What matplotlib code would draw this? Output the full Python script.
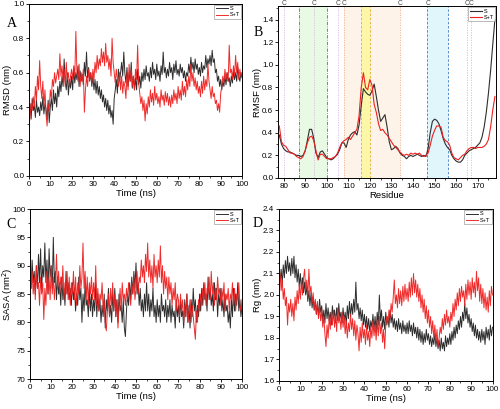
import numpy as np
import matplotlib
matplotlib.use("Agg")
import matplotlib.pyplot as plt
from matplotlib.ticker import MultipleLocator
from matplotlib.transforms import offset_copy

# ---------------- data ----------------
time_ns = np.arange(0, 100.5, 0.5)

rmsd_S = [0.36, 0.42, 0.33, 0.45, 0.38, 0.41, 0.34, 0.44, 0.37, 0.40,
          0.35, 0.43, 0.38, 0.46, 0.36, 0.42, 0.39, 0.33, 0.44, 0.31,
          0.40, 0.45, 0.38, 0.50, 0.42, 0.48, 0.40, 0.52, 0.46, 0.55,
          0.49, 0.58, 0.52, 0.68, 0.55, 0.50, 0.60, 0.47, 0.56, 0.51,
          0.58, 0.50, 0.62, 0.54, 0.60, 0.56, 0.64, 0.52, 0.61, 0.55,
          0.59, 0.53, 0.66, 0.58, 0.72, 0.57, 0.63, 0.55, 0.60, 0.52,
          0.58, 0.50, 0.56, 0.48, 0.55, 0.47, 0.52, 0.45, 0.50, 0.43,
          0.47, 0.40, 0.45, 0.38, 0.44, 0.36, 0.41, 0.34, 0.38, 0.30,
          0.45, 0.50, 0.56, 0.48, 0.62, 0.55, 0.60, 0.66, 0.58, 0.72,
          0.60, 0.54, 0.63, 0.52, 0.60, 0.55, 0.66, 0.51, 0.58, 0.50,
          0.57, 0.50, 0.62, 0.53, 0.58, 0.51, 0.60, 0.55, 0.62, 0.56,
          0.64, 0.58, 0.60, 0.55, 0.63, 0.57, 0.66, 0.59, 0.62, 0.56,
          0.65, 0.58, 0.61, 0.55, 0.64, 0.59, 0.72, 0.60, 0.63, 0.57,
          0.62, 0.58, 0.66, 0.60, 0.63, 0.56, 0.65, 0.60, 0.67, 0.59,
          0.62, 0.58, 0.65, 0.60, 0.63, 0.57, 0.61, 0.55, 0.60, 0.58,
          0.65, 0.60, 0.69, 0.62, 0.66, 0.60, 0.68, 0.62, 0.65, 0.59,
          0.63, 0.58, 0.66, 0.60, 0.64, 0.62, 0.70, 0.63, 0.68, 0.65,
          0.70, 0.64, 0.73, 0.66, 0.68, 0.60, 0.62, 0.55, 0.58, 0.52,
          0.56, 0.50, 0.55, 0.52, 0.58, 0.53, 0.60, 0.55, 0.57, 0.52,
          0.58, 0.54, 0.61, 0.56, 0.60, 0.55, 0.63, 0.58, 0.55, 0.60,
          0.57]

rmsd_ST = [0.28, 0.35, 0.42, 0.38, 0.46, 0.40, 0.52, 0.44, 0.58, 0.50,
           0.67, 0.52, 0.45, 0.55, 0.40, 0.50, 0.36, 0.29, 0.42, 0.38,
           0.50, 0.45, 0.56, 0.52, 0.60, 0.54, 0.58, 0.62, 0.56, 0.71,
           0.58, 0.64, 0.55, 0.62, 0.52, 0.66, 0.56, 0.60, 0.52, 0.58,
           0.62, 0.56, 0.64, 0.58, 0.84, 0.60, 0.55, 0.65, 0.52, 0.60,
           0.55, 0.62, 0.37, 0.50, 0.58, 0.52, 0.62, 0.56, 0.60, 0.54,
           0.62, 0.56, 0.66, 0.60, 0.70, 0.62, 0.68, 0.64, 0.74, 0.66,
           0.72, 0.64, 0.77, 0.66, 0.70, 0.62, 0.68, 0.58, 0.80, 0.66,
           0.60, 0.54, 0.62, 0.56, 0.52, 0.60, 0.50, 0.58, 0.48, 0.55,
           0.52, 0.45, 0.60, 0.50, 0.65, 0.55, 0.62, 0.52, 0.58, 0.50,
           0.62, 0.56, 0.76, 0.54, 0.48, 0.42, 0.46, 0.38, 0.44, 0.32,
           0.42, 0.36, 0.46, 0.40, 0.50, 0.43, 0.48, 0.41, 0.52, 0.44,
           0.48, 0.42, 0.46, 0.40, 0.50, 0.44, 0.47, 0.41, 0.49, 0.43,
           0.48, 0.41, 0.46, 0.40, 0.47, 0.42, 0.50, 0.44, 0.48, 0.42,
           0.52, 0.45, 0.50, 0.44, 0.55, 0.47, 0.52, 0.46, 0.56, 0.50,
           0.58, 0.52, 0.65, 0.55, 0.60, 0.52, 0.57, 0.50, 0.55, 0.48,
           0.52, 0.46, 0.55, 0.48, 0.58, 0.50, 0.56, 0.52, 0.65, 0.55,
           0.50, 0.45, 0.52, 0.46, 0.48, 0.42, 0.44, 0.38, 0.42, 0.37,
           0.48, 0.52, 0.58, 0.54, 0.62, 0.56, 0.60, 0.55, 0.76, 0.60,
           0.62, 0.56, 0.64, 0.58, 0.70, 0.60, 0.66, 0.56, 0.62, 0.58,
           0.60]

residues = np.arange(78, 179)
rmsf_S = [0.38, 0.30, 0.26, 0.24, 0.23, 0.23, 0.22, 0.21, 0.20, 0.20,
          0.19, 0.20, 0.24, 0.33, 0.43, 0.43, 0.35, 0.22, 0.18, 0.23,
          0.24, 0.21, 0.18, 0.17, 0.16, 0.17, 0.19, 0.21, 0.25, 0.31,
          0.31, 0.27, 0.34, 0.38, 0.40, 0.41, 0.38, 0.47, 0.64, 0.79,
          0.76, 0.74, 0.73, 0.77, 0.83, 0.72, 0.60, 0.50, 0.53, 0.56,
          0.45, 0.32, 0.25, 0.26, 0.28, 0.26, 0.22, 0.20, 0.19, 0.17,
          0.19, 0.20, 0.19, 0.20, 0.21, 0.20, 0.19, 0.20, 0.19, 0.26,
          0.40, 0.50, 0.52, 0.51, 0.48, 0.42, 0.35, 0.30, 0.27, 0.25,
          0.20, 0.17, 0.15, 0.14, 0.14, 0.16, 0.20, 0.22, 0.24, 0.25,
          0.26, 0.27, 0.29, 0.31, 0.36, 0.45, 0.58, 0.75, 0.95, 1.18,
          1.40]
rmsf_ST = [0.46, 0.32, 0.29, 0.28, 0.25, 0.22, 0.22, 0.21, 0.19, 0.18,
           0.17, 0.19, 0.24, 0.31, 0.36, 0.37, 0.33, 0.24, 0.16, 0.21,
           0.21, 0.19, 0.17, 0.17, 0.17, 0.18, 0.19, 0.22, 0.27, 0.31,
           0.33, 0.34, 0.36, 0.34, 0.37, 0.40, 0.43, 0.55, 0.80, 0.93,
           0.80, 0.78, 0.87, 0.82, 0.65, 0.58, 0.48, 0.42, 0.43, 0.40,
           0.38, 0.35, 0.32, 0.29, 0.27, 0.25, 0.23, 0.21, 0.20, 0.21,
           0.20, 0.22, 0.21, 0.22, 0.21, 0.22, 0.20, 0.19, 0.20, 0.22,
           0.29, 0.37, 0.42, 0.46, 0.46, 0.45, 0.36, 0.33, 0.32, 0.29,
           0.22, 0.18, 0.17, 0.16, 0.18, 0.20, 0.21, 0.24, 0.26, 0.27,
           0.27, 0.26, 0.27, 0.27, 0.27, 0.28, 0.30, 0.34, 0.45, 0.60,
           0.72]

sasa_S = [88, 86, 91, 87, 89, 85, 90, 86, 92, 87,
          93, 86, 90, 88, 94, 87, 91, 85, 93, 88,
          90, 86, 95, 87, 89, 84, 88, 85, 87, 83,
          88, 84, 86, 83, 89, 85, 87, 84, 86, 83,
          87, 84, 86, 82, 85, 83, 88, 84, 86, 80,
          85, 82, 87, 83, 84, 81, 86, 82, 85, 81,
          84, 82, 87, 81, 85, 82, 84, 80, 83, 81,
          85, 79, 84, 82, 86, 81, 83, 80, 85, 82,
          86, 81, 84, 80, 85, 82, 83, 80, 84, 79,
          77.5, 82, 85, 83, 87, 84, 88, 85, 89, 86,
          90.5, 85, 87, 83, 86, 82, 84, 81, 85, 82,
          87, 82, 85, 81, 84, 82, 86, 81, 83, 80,
          84, 81, 83, 80, 85, 82, 83, 81, 84, 80,
          83, 81, 84, 80, 83, 81, 82, 79, 84, 81,
          83, 80, 84, 81, 82, 79, 84, 81, 85, 80,
          83, 79, 84, 81, 86, 82, 84, 80, 83, 81,
          85, 82, 86, 83, 87, 84, 85, 82, 88, 84,
          86, 83, 85, 82, 87, 84, 86, 81, 85, 83,
          86, 82, 84, 81, 85, 82, 83, 80, 82, 79,
          84, 81, 86, 82, 85, 83, 87, 82, 84, 81,
          83]
sasa_ST = [92.5, 86, 89, 85, 88, 84, 90, 86, 87, 83,
           88, 85, 87, 80.5, 86, 83, 89, 85, 88, 84,
           90, 85, 88, 84, 87, 92, 86, 89, 85, 88,
           86, 90, 84, 87, 85, 89, 84, 88, 83, 87,
           85, 89, 84, 88, 83, 87, 85, 90, 86, 88,
           94, 86, 89, 84, 88, 83, 87, 85, 88, 84,
           87, 84, 90, 83, 86, 82, 85, 84, 87, 82,
           84, 80, 78.5, 82, 85, 81, 86, 83, 87, 82,
           85, 81, 84, 79, 83, 86, 82, 87, 84, 85,
           83, 86, 84, 87, 85, 83, 87, 85, 88, 84,
           86, 89, 85, 88, 87, 91, 88, 90, 87, 92,
           89, 94, 88, 91, 87, 90, 86, 92, 88, 90,
           87, 91, 88, 93.5, 87, 90, 85, 89, 86, 88,
           84, 88, 85, 87, 83, 86, 84, 87, 82, 85,
           84, 81, 85, 82, 84, 80, 83, 81, 85, 80,
           82, 84, 80, 83, 81, 79, 77, 82, 80, 84,
           82, 85, 83, 86, 84, 87, 83, 86, 85, 88,
           84, 89, 85, 87, 83, 86, 84, 88, 85, 86,
           83, 86, 84, 87, 82, 85, 84, 86, 82, 85,
           84, 87, 83, 86, 82, 85, 84, 87, 83, 82,
           84]

rg_S = [2.10, 2.06, 2.12, 2.05, 2.14, 2.08, 2.16, 2.10, 2.18, 2.11,
        2.15, 2.09, 2.17, 2.10, 2.18, 2.08, 2.14, 2.06, 2.12, 2.04,
        2.10, 2.03, 2.08, 2.01, 2.06, 2.00, 2.04, 1.97, 2.02, 1.95,
        2.01, 1.94, 1.99, 1.93, 1.97, 1.91, 1.96, 1.90, 1.98, 1.92,
        1.95, 1.88, 1.93, 1.87, 1.96, 1.89, 1.94, 1.88, 1.92, 1.86,
        1.95, 1.89, 1.93, 1.87, 1.94, 1.88, 1.96, 1.89, 1.92, 1.87,
        1.94, 1.88, 1.92, 1.86, 1.95, 1.89, 1.97, 1.90, 1.96, 1.91,
        1.98, 1.92, 2.06, 1.93, 1.96, 1.89, 1.94, 1.88, 1.93, 1.86,
        1.91, 1.85, 1.90, 1.84, 1.89, 1.83, 1.88, 1.85, 1.91, 1.84,
        1.90, 1.83, 1.92, 1.86, 2.00, 1.88, 1.93, 1.85, 1.90, 1.84,
        1.92, 1.86, 1.90, 1.85, 1.93, 1.87, 1.91, 1.85, 1.89, 1.84,
        1.88, 1.83, 1.89, 1.84, 1.87, 1.82, 1.88, 1.83, 1.86, 1.82,
        1.87, 1.82, 1.88, 1.83, 1.86, 1.81, 1.87, 1.82, 1.85, 1.80,
        1.85, 1.79, 1.84, 1.78, 1.83, 1.77, 1.82, 1.78, 1.84, 1.79,
        1.82, 1.77, 1.81, 1.76, 1.80, 1.77, 1.82, 1.76, 1.80, 1.75,
        1.79, 1.74, 1.80, 1.75, 1.78, 1.74, 1.81, 1.76, 1.80, 1.77,
        1.82, 1.77, 1.83, 1.79, 1.85, 1.80, 1.86, 1.82, 1.88, 1.84,
        1.90, 1.85, 1.92, 1.88, 1.96, 1.89, 1.94, 1.87, 1.91, 1.85,
        1.89, 1.83, 1.87, 1.81, 1.86, 1.80, 1.84, 1.79, 1.83, 1.78,
        1.84, 1.79, 1.83, 1.77, 1.85, 1.80, 1.84, 1.79, 1.86, 1.81,
        1.85]
rg_ST = [2.05, 2.10, 2.02, 2.07, 1.98, 2.03, 1.95, 1.99, 1.86, 1.96,
         1.92, 1.98, 1.90, 1.96, 1.88, 1.99, 1.93, 2.02, 1.96, 2.05,
         1.98, 2.06, 2.00, 2.08, 2.12, 2.02, 2.07, 1.99, 2.12, 2.01,
         2.04, 1.96, 2.01, 1.93, 1.98, 1.91, 1.97, 1.89, 1.95, 1.88,
         1.93, 1.85, 1.90, 1.82, 1.76, 1.86, 1.80, 1.90, 1.84, 1.92,
         1.86, 1.93, 1.85, 1.91, 1.83, 1.94, 1.87, 1.90, 1.84, 1.92,
         1.85, 1.90, 1.82, 1.88, 1.80, 1.87, 1.83, 1.91, 1.84, 1.89,
         1.81, 1.88, 1.79, 1.86, 1.82, 1.74, 1.85, 1.78, 1.87, 1.80,
         1.84, 1.77, 1.86, 1.79, 1.83, 1.76, 1.85, 1.80, 1.88, 1.81,
         1.86, 1.79, 1.88, 1.81, 1.90, 1.82, 1.87, 1.78, 1.84, 1.75,
         1.86, 1.90, 1.87, 1.93, 1.89, 1.96, 1.92, 1.99, 2.07, 1.96,
         2.00, 1.94, 2.03, 1.96, 2.02, 1.95, 2.04, 1.97, 2.05, 1.98,
         2.03, 1.97, 2.06, 1.99, 2.08, 2.00, 2.10, 2.01, 2.07, 1.99,
         2.05, 1.97, 2.03, 1.94, 2.00, 1.92, 1.98, 1.89, 1.95, 1.87,
         1.93, 1.85, 1.90, 1.82, 1.88, 1.80, 1.86, 1.78, 1.84, 1.76,
         1.80, 1.85, 1.82, 1.89, 1.84, 1.91, 1.86, 1.93, 1.87, 1.90,
         1.85, 1.92, 1.88, 1.96, 1.90, 1.98, 1.93, 2.01, 1.95, 2.03,
         1.97, 2.04, 1.99, 2.02, 1.95, 2.05, 1.98, 2.07, 2.00, 2.06,
         1.98, 2.08, 2.01, 2.06, 1.99, 2.11, 2.02, 2.08, 1.97, 2.05,
         1.96, 2.03, 1.94, 2.01, 1.93, 1.99, 1.92, 2.02, 1.95, 2.04,
         2.00]

series_labels = ["S", "S+T"]
c_label_positions = [80, 94, 105, 108, 134, 147, 165, 167]

# ---------------- style ----------------
plt.rcParams['font.family'] = ['Liberation Sans', 'DejaVu Sans']
BLACK = "#2e2e2e"
RED = "#ee2020"
TICK_FS = 5.8
LAB_FS = 6.8

fig = plt.figure(figsize=(5, 4.09), dpi=100)

def style_axes(ax, xmaj, xmin, ymaj, ymin):
    ax.xaxis.set_major_locator(MultipleLocator(xmaj))
    ax.xaxis.set_minor_locator(MultipleLocator(xmin))
    ax.yaxis.set_major_locator(MultipleLocator(ymaj))
    ax.yaxis.set_minor_locator(MultipleLocator(ymin))
    ax.tick_params(which='major', length=2.2, width=0.6, labelsize=TICK_FS, pad=1.2)
    ax.tick_params(which='minor', length=1.3, width=0.5)
    for s in ax.spines.values():
        s.set_linewidth(0.7)

def add_legend(ax):
    leg = ax.legend(loc='upper right', fontsize=4, frameon=True, fancybox=False,
                    handlelength=2.2, borderpad=0.3, labelspacing=0.2,
                    handletextpad=0.3, borderaxespad=0.15)
    leg.get_frame().set_edgecolor('#888888')
    leg.get_frame().set_linewidth(0.5)

def ts_panel(rect, yS, yST, ylim, ymaj, ymin, ylabel, yfmt, ylab_x):
    ax = fig.add_axes(rect)
    ax.plot(time_ns, yS, color=BLACK, lw=0.7, label=series_labels[0])
    ax.plot(time_ns, yST, color=RED, lw=0.7, alpha=0.95, label=series_labels[1])
    ax.set_xlim(0, 100)
    ax.set_ylim(*ylim)
    style_axes(ax, 10, 5, ymaj, ymin)
    ax.yaxis.set_major_formatter(plt.FormatStrFormatter(yfmt))
    ax.set_xlabel("Time (ns)", fontsize=LAB_FS, labelpad=1)
    ax.set_ylabel(ylabel, fontsize=LAB_FS)
    ax.yaxis.set_label_coords(ylab_x, 0.5)
    add_legend(ax)
    return ax

# A
axA = ts_panel([0.058, 0.570, 0.426, 0.4205], rmsd_S, rmsd_ST, (0, 1.0), 0.2, 0.1,
               "RMSD (nm)", "%.1f", -0.08)
# C
axC = ts_panel([0.060, 0.0733, 0.424, 0.4156], sasa_S, sasa_ST, (70, 100), 5, 2.5,
               "SASA (nm$^2$)", "%d", -0.071)
# D
axD = ts_panel([0.558, 0.0685, 0.427, 0.4205], rg_S, rg_ST, (1.6, 2.4), 0.1, 0.05,
               "Rg (nm)", "%.1f", -0.079)

# B
axB = fig.add_axes([0.556, 0.5648, 0.436, 0.4205])
axB.set_xlim(77.4, 178.5)
axB.set_ylim(0, 1.52)
axB.axvspan(87, 100, color='#e8fae3', zorder=0, lw=0)
axB.axvspan(108, 134, color='#fdf3e8', zorder=0, lw=0)
axB.axvspan(116, 120, color='#fbf7a6', zorder=0, lw=0)
axB.axvspan(146.4, 156.4, color='#e0f6fb', zorder=0, lw=0)
for x in (87, 100):
    axB.axvline(x, color='#2e9a3a', lw=0.6, ls=(0, (4, 1.5, 1, 1.5)), zorder=1)
for x in (116, 120):
    axB.axvline(x, color='#e0b030', lw=0.6, ls=(0, (3, 2)), zorder=1)
for x in (146.4, 156.4):
    axB.axvline(x, color='#3b7fc4', lw=0.6, ls=(0, (3, 2)), zorder=1)
for x in (108, 134):
    axB.axvline(x, color='#f0b090', lw=0.6, ls=(0, (1.5, 1.5)), zorder=1)
for x in (80, 94, 105, 165, 167):
    axB.axvline(x, color='#d8b8e0', lw=0.6, ls=(0, (1.5, 1.5)), zorder=1)
c_trans = offset_copy(axB.get_xaxis_transform(), fig=fig, x=0, y=1.0, units='points')
for x in c_label_positions:
    axB.text(x, 1.0, "C", transform=c_trans, ha='center', va='baseline',
             fontsize=4.8, color='#444444')
axB.plot(residues, rmsf_S, color=BLACK, lw=0.8, label=series_labels[0], zorder=3)
axB.plot(residues, rmsf_ST, color=RED, lw=0.8, label=series_labels[1], zorder=4)
style_axes(axB, 10, 5, 0.2, 0.1)
axB.yaxis.set_major_formatter(plt.FormatStrFormatter("%.1f"))
axB.set_xlabel("Residue", fontsize=LAB_FS, labelpad=1)
axB.set_ylabel("RMSF (nm)", fontsize=LAB_FS)
axB.yaxis.set_label_coords(-0.073, 0.5)
add_legend(axB)

# panel letters
for txt, x, y in (("A", 0.014, 0.935), ("B", 0.508, 0.912), ("C", 0.012, 0.443), ("D", 0.505, 0.445)):
    fig.text(x, y, txt, fontsize=10, family=['Liberation Serif', 'DejaVu Serif'])

fig.savefig("out.png", dpi=100)
